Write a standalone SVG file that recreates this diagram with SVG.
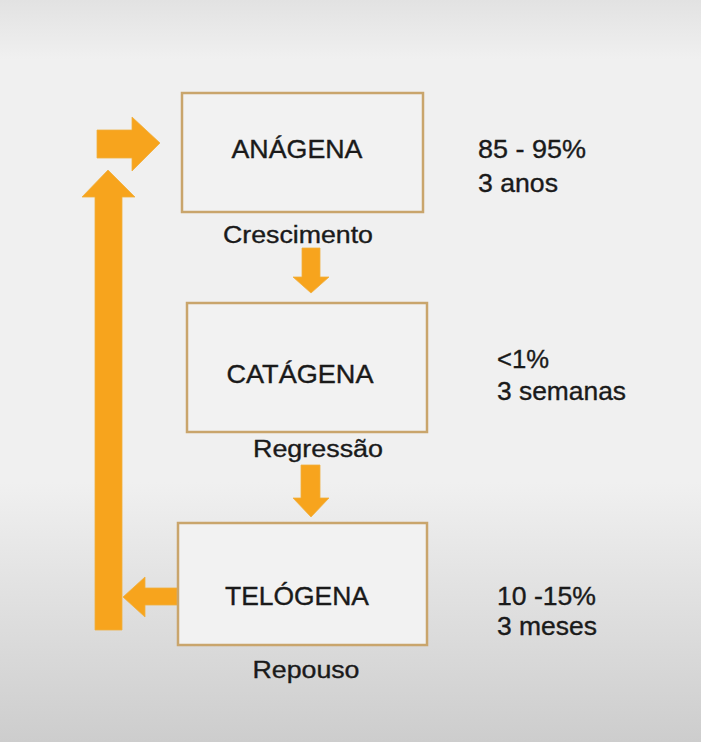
<svg xmlns="http://www.w3.org/2000/svg" width="701" height="742" viewBox="0 0 701 742">
  <defs>
    <linearGradient id="bg" x1="0" y1="0" x2="0" y2="1">
      <stop offset="0" stop-color="#e2e2e2"/>
      <stop offset="0.08" stop-color="#f0f0f0"/>
      <stop offset="0.65" stop-color="#f0f0f0"/>
      <stop offset="1" stop-color="#cdcdcd"/>
    </linearGradient>
    <style>
      .box { fill: #f2f2f2; stroke: #c9a56c; stroke-width: 2.5; }
      .arrow { fill: #f7a41d; stroke: #f0b040; stroke-width: 0.8; }
      text { stroke: #1a1a1a; stroke-width: 0.35; }
      .title { font-family: "Liberation Sans", Arial, sans-serif; font-size: 25px; fill: #1a1a1a; text-anchor: middle; }
      .lbl { font-family: "Liberation Sans", Arial, sans-serif; font-size: 23px; fill: #1a1a1a; text-anchor: middle; }
      .info { font-family: "Liberation Sans", Arial, sans-serif; font-size: 25px; fill: #1a1a1a; }
    </style>
  </defs>
  <rect x="0" y="0" width="701" height="742" fill="url(#bg)"/>

  <g id="connectors">
    <polygon class="arrow" points="97,130 132,130 132,117 160,143 132,171 132,158 97,158"/>
    <polygon class="arrow" points="95,630 95,197 82,197 108,170 135,197 122,197 122,630"/>
    <polygon class="arrow" points="302,248 320,248 320,277 329,277 311,293 293,277 302,277"/>
    <polygon class="arrow" points="301,465 320,465 320,498 329,498 311,517 293,498 301,498"/>
    <polygon class="arrow" points="177,588 145,588 145,577 123,597 145,617 145,605 177,605"/>
  </g>

  <g id="anagena">
    <rect class="box" x="182" y="93" width="241" height="119"/>
    <text class="title" x="297" y="158" textLength="131" lengthAdjust="spacingAndGlyphs">ANÁGENA</text>
    <text class="lbl" x="298" y="243" textLength="150" lengthAdjust="spacingAndGlyphs">Crescimento</text>
  </g>

  <g id="catagena">
    <rect class="box" x="187" y="303" width="240" height="129"/>
    <text class="title" x="300" y="383" textLength="147" lengthAdjust="spacingAndGlyphs">CATÁGENA</text>
    <text class="lbl" x="318" y="457" textLength="130" lengthAdjust="spacingAndGlyphs">Regressão</text>
  </g>

  <g id="telogena">
    <rect class="box" x="178" y="523" width="249" height="122"/>
    <text class="title" x="297" y="605" textLength="144" lengthAdjust="spacingAndGlyphs">TELÓGENA</text>
    <text class="lbl" x="306" y="678" textLength="107" lengthAdjust="spacingAndGlyphs">Repouso</text>
  </g>

  <g id="info-anagena">
    <text class="info" x="478" y="158" textLength="108" lengthAdjust="spacingAndGlyphs">85 - 95%</text>
    <text class="info" x="478" y="192" textLength="80" lengthAdjust="spacingAndGlyphs">3 anos</text>
  </g>
  <g id="info-catagena">
    <text class="info" x="497" y="368" textLength="52" lengthAdjust="spacingAndGlyphs">&lt;1%</text>
    <text class="info" x="497" y="400" textLength="129" lengthAdjust="spacingAndGlyphs">3 semanas</text>
  </g>
  <g id="info-telogena">
    <text class="info" x="497" y="605" textLength="99" lengthAdjust="spacingAndGlyphs">10 -15%</text>
    <text class="info" x="497" y="635" textLength="100" lengthAdjust="spacingAndGlyphs">3 meses</text>
  </g>
</svg>
